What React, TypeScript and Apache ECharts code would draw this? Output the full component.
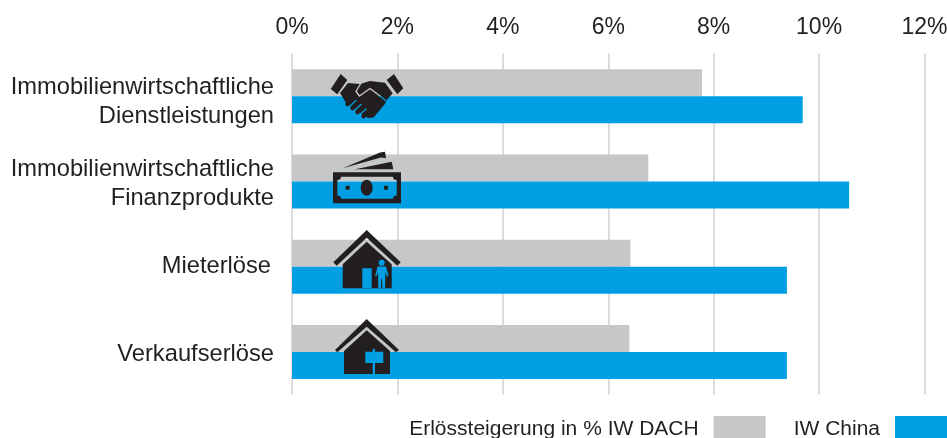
import React, { useEffect, useRef } from "react";
import * as echarts from "echarts";

const categories = [
  "Immobilienwirtschaftliche\nDienstleistungen",
  "Immobilienwirtschaftliche\nFinanzprodukte",
  "Mieterlöse",
  "Verkaufserlöse",
];
const dachValues = [7.78, 6.76, 6.42, 6.4];
const chinaValues = [9.69, 10.57, 9.39, 9.39];
const seriesNames = ["Erlössteigerung in % IW DACH", "IW China"];
const labelStyleKeys = ["a", "b", "c", "d"];

const GRAY = "#c6c7c9";
const BLUE = "#009fe3";
const DARK = "#231f20";
const FONT = "'Liberation Sans', Arial, sans-serif";

const shapes: Record<string, string> = {
  ic_cuffs:
    "M330.7 89L340.7 74L347.3 80L337.3 94.3ZM386.7 80L394 74L403.3 88.3L397.3 94.3Z",
  ic_hands:
    "M348 83L360 84L370 81L385 82.7L392.7 93.3L386.7 100L385 104L373.5 117.5L368 118L346.5 103.5L340 93Z",
  ic_money:
    "M333 172.3L401 172.3L401 203.3L333 203.3Z M337.3 180L337.3 195.4Q341 195.4 341 198.7L393 198.7Q393 195.4 396.7 195.4L396.7 180Q393 180 393 176.7L341 176.7Q341 180 337.3 180Z M342.7 168.3L380 152.5L385 151.7L386 158.3L381 157.5Z M355 169.3L391.7 161.7L393.3 169.3Z M366.7 179.7C370 179.7 372.7 183.3 372.7 187.7C372.7 192 370 195.7 366.7 195.7C363.4 195.7 360.7 192 360.7 187.7C360.7 183.3 363.4 179.7 366.7 179.7Z M347.7 185.4A2.3 2.3 0 1 1 347.7 190A2.3 2.3 0 1 1 347.7 185.4Z M386 185.4A2.3 2.3 0 1 1 386 190A2.3 2.3 0 1 1 386 185.4Z",
  ic_rent:
    "M366.7 230L400.7 262.3L397.3 265.7L366.7 237.7L336.7 265.7L333.3 262.3Z M366.7 241.7L391.7 264.3L391.7 288.3L342.7 288.3L342.7 264.3Z",
  ic_rentBlue:
    "M362.3 268.3L371.7 268.3L371.7 288.3L362.3 288.3Z M381.7 259.7A3 3 0 1 1 381.7 265.7A3 3 0 1 1 381.7 259.7Z M377.5 266.5L386 266.5L388.5 276L387 276.5L385.5 272L385 288.3L382.3 288.3L382 279L381.2 279L381 288.3L378.3 288.3L378 272L376.5 276.5L375.2 276Z",
  ic_sale:
    "M366.7 319L399 350L396 352.3L366.7 326.7L337.3 352.3L335 350Z M366.7 330.3L390 351L390 374L344 374L344 351Z",
  ic_saleBlue:
    "M372.7 349L375 349L375 351.7L383.3 351.7L383.3 363L375 363L375 374L372.7 374L372.7 363L365.3 363L365.3 351.7L372.7 351.7Z",
};
Object.entries(shapes).forEach(([name, d]) => {
  echarts.graphic.registerShape(name, echarts.graphic.extendPath(d, {}) as any);
});

const icon = (name: string, fill: string) => ({
  type: name,
  x: 0,
  y: 0,
  z: 50,
  silent: true,
  style: { fill },
});
const stroke = (points: number[][], color: string, lineWidth: number, z = 60) => ({
  type: "polyline",
  z,
  silent: true,
  shape: { points },
  style: { stroke: color, lineWidth, fill: "none", lineCap: "round", lineJoin: "round" },
});

const richBase = {
  fontSize: 23.7,
  lineHeight: 29,
  color: DARK,
  fontFamily: FONT,
  align: "right",
};

export default function App() {
  const ref = useRef<HTMLDivElement>(null);
  useEffect(() => {
    const chart = echarts.init(ref.current!, undefined, { renderer: "svg" });
    chart.setOption({
      animation: false,
      textStyle: { fontFamily: FONT },
      grid: { left: 292, right: 22.5, top: 53.5, bottom: 43.5, outerBoundsMode: "none" },
      legend: {
        right: 0,
        bottom: 0,
        padding: 0,
        align: "right",
        icon: "rect",
        itemWidth: 52,
        itemHeight: 22,
        itemGap: 28,
        selectedMode: false,
        textStyle: { fontSize: 21, color: DARK, fontFamily: FONT, padding: [0, 10, 0, 0] },
      },
      xAxis: {
        type: "value",
        position: "top",
        min: 0,
        max: 12,
        interval: 2,
        axisLine: { show: false },
        axisTick: { show: false },
        axisLabel: {
          formatter: "{value}%",
          fontSize: 23,
          color: DARK,
          fontFamily: FONT,
          margin: 16,
        },
        splitLine: { show: true, lineStyle: { color: "#dcdcdc", width: 2 } },
      },
      yAxis: {
        type: "category",
        inverse: true,
        data: categories,
        axisLine: { show: false },
        axisTick: { show: false },
        axisLabel: {
          fontSize: 23.7,
          lineHeight: 29,
          color: DARK,
          fontFamily: FONT,
          align: "right",
          margin: 18,
          formatter: (value: string, index: number) => {
            const [first, second] = value.split("\n");
            const key = labelStyleKeys[index];
            return second
              ? `{${key}| }\n{e|${first}}\n{e|${second}}`
              : `{${key}|${first}}`;
          },
          rich: {
            a: { fontSize: 1, lineHeight: 9 },
            b: { fontSize: 1, lineHeight: 2 },
            c: { ...richBase, padding: [0, 3, 4, 0] },
            d: { ...richBase, padding: [2, 0, 0, 0] },
            e: { ...richBase },
          },
        },
      },
      series: [
        { name: seriesNames[0], type: "bar", data: dachValues, barWidth: 27, barGap: "0%", itemStyle: { color: GRAY } },
        { name: seriesNames[1], type: "bar", data: chinaValues, barWidth: 27, barGap: "0%", itemStyle: { color: BLUE } },
      ],
      graphic: [
        icon("ic_cuffs", DARK),
        icon("ic_hands", DARK),
        stroke([[347.5, 104], [353, 99]], DARK, 4.5, 55),
        stroke([[352.5, 108], [358, 103]], DARK, 4.5, 55),
        stroke([[357.5, 112], [363, 107]], DARK, 4.5, 55),
        stroke([[363.5, 116], [369, 111]], DARK, 4.5, 55),
        stroke([[361, 83], [356, 91.5], [359.5, 96], [370, 88.5], [380, 96]], GRAY, 1.4),
        stroke([[380, 96], [385.5, 100.5]], BLUE, 1.2),
        stroke([[350, 106], [356, 100.5]], BLUE, 1.3),
        stroke([[355, 110], [361, 104.5]], BLUE, 1.3),
        stroke([[360.5, 114], [366, 109]], BLUE, 1.3),
        icon("ic_money", DARK),
        icon("ic_rent", DARK),
        icon("ic_rentBlue", BLUE),
        icon("ic_sale", DARK),
        icon("ic_saleBlue", BLUE),
      ],
    });
    return () => chart.dispose();
  }, []);
  return <div ref={ref} style={{ position: "fixed", left: 0, top: 0, width: 947, height: 438 }} />;
}
